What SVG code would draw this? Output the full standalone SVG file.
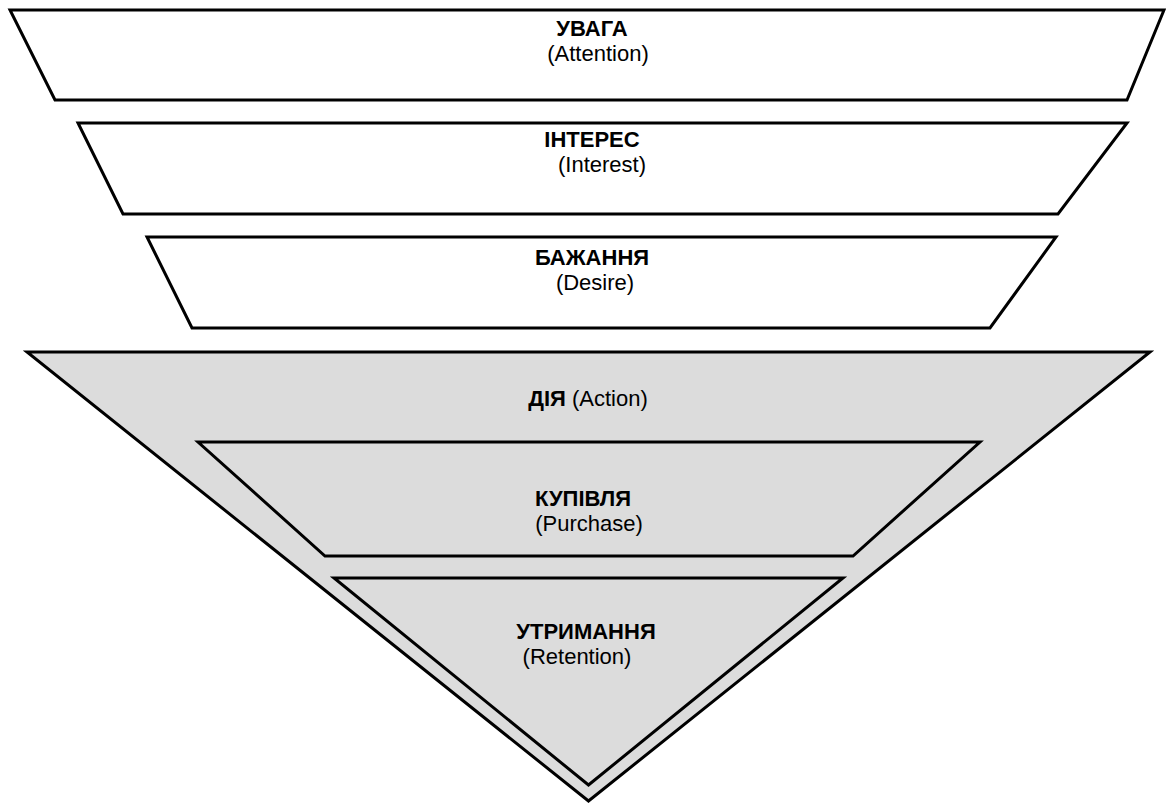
<svg xmlns="http://www.w3.org/2000/svg" width="1166" height="807" viewBox="0 0 1166 807">
<style>
.w{fill:#ffffff;stroke:#000000;stroke-width:3;stroke-linejoin:miter}
.g{fill:#dcdcdc;stroke:#000000;stroke-width:3;stroke-linejoin:miter}
.b{font-family:"Liberation Sans",Arial,sans-serif;font-weight:bold;font-size:22px;fill:#000;text-anchor:middle}
.r{font-family:"Liberation Sans",Arial,sans-serif;font-size:22px;fill:#000;text-anchor:middle}
</style>
<rect width="1166" height="807" fill="#ffffff"/>
<g id="attention">
<polygon class="w" points="10,10 1164,10 1127,100 55,100"/>
<text class="b" x="592" y="36">УВАГА</text>
<text class="r" x="598" y="61">(Attention)</text>
</g>
<g id="interest">
<polygon class="w" points="78,123 1127,123 1058,214 123,214"/>
<text class="b" x="592" y="147">ІНТЕРЕС</text>
<text class="r" x="602" y="172">(Interest)</text>
</g>
<g id="desire">
<polygon class="w" points="147,237 1056,237 990,328 192,328"/>
<text class="b" x="592" y="265">БАЖАННЯ</text>
<text class="r" x="595" y="290">(Desire)</text>
</g>
<g id="action">
<polygon class="g" points="27,352 1150,352 588.5,801"/>
<text x="588" y="406" class="r"><tspan font-weight="bold">ДІЯ</tspan> (Action)</text>
</g>
<g id="purchase">
<polygon class="g" points="198,442 980,442 853,556 325,556"/>
<text class="b" x="583" y="506">КУПІВЛЯ</text>
<text class="r" x="589" y="531">(Purchase)</text>
</g>
<g id="retention">
<polygon class="g" points="334,578 843,578 588.5,785"/>
<text class="b" x="586" y="639">УТРИМАННЯ</text>
<text class="r" x="577" y="664">(Retention)</text>
</g>
<g id="connectors"/>
</svg>
